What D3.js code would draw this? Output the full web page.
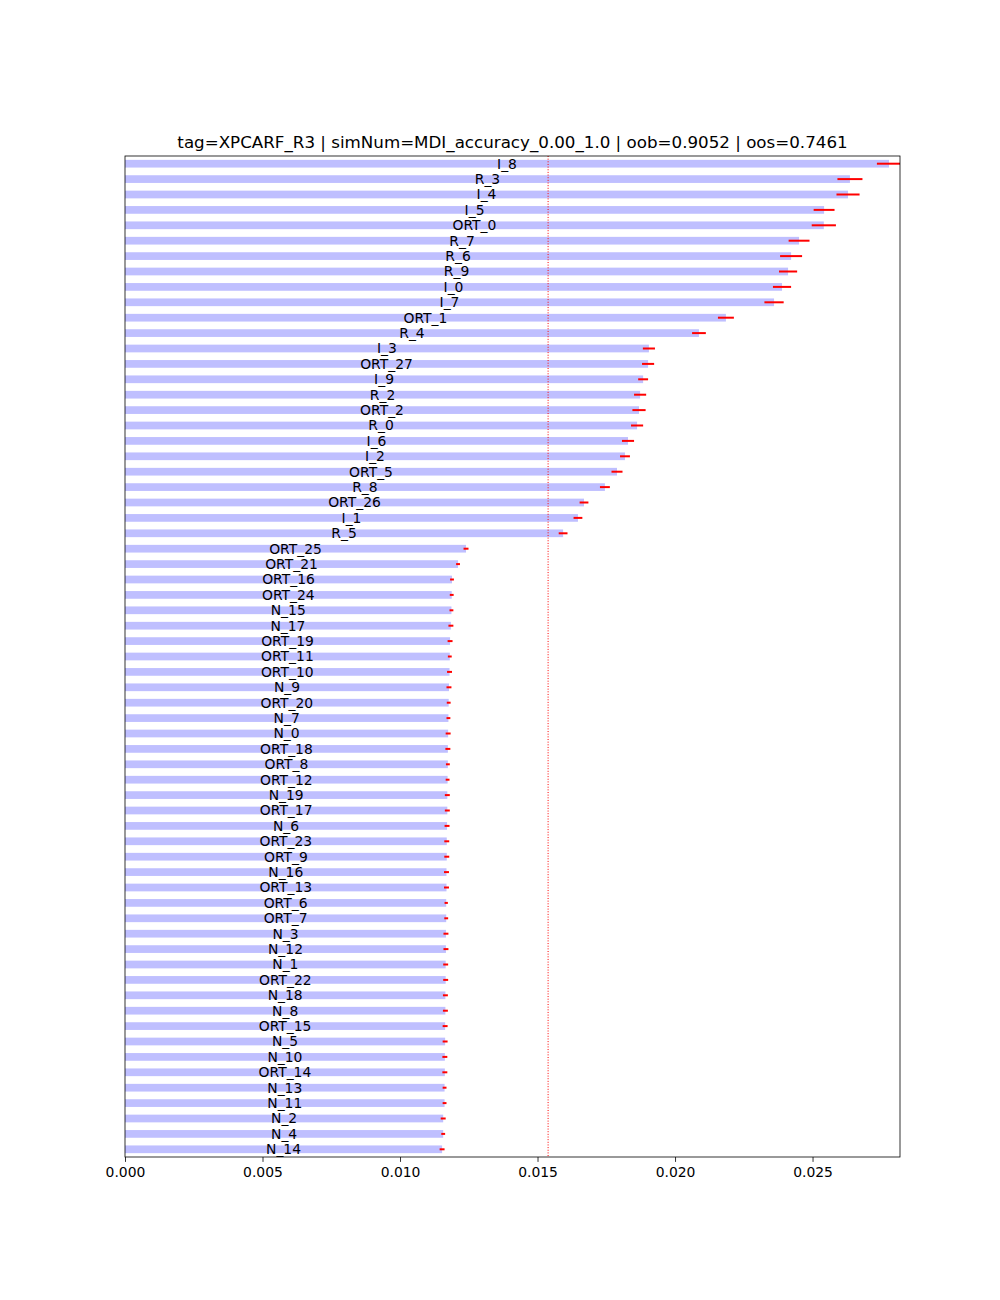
<!DOCTYPE html>
<html>
<head>
<meta charset="utf-8">
<script src="https://cdn.jsdelivr.net/npm/d3@7"></script>
<style>
  body { margin: 0; background: #fff; }
  text { font-family: "DejaVu Sans", sans-serif; fill: #000; }
</style>
</head>
<body>
<div id="chart"></div>
<script>
// feature names, top to bottom
const features = [
  "I_8", "R_3", "I_4", "I_5", "ORT_0", "R_7", "R_6", "R_9", "I_0", "I_7",
  "ORT_1", "R_4", "I_3", "ORT_27", "I_9", "R_2", "ORT_2", "R_0", "I_6", "I_2",
  "ORT_5", "R_8", "ORT_26", "I_1", "R_5", "ORT_25", "ORT_21", "ORT_16", "ORT_24", "N_15",
  "N_17", "ORT_19", "ORT_11", "ORT_10", "N_9", "ORT_20", "N_7", "N_0", "ORT_18", "ORT_8",
  "ORT_12", "N_19", "ORT_17", "N_6", "ORT_23", "ORT_9", "N_16", "ORT_13", "ORT_6", "ORT_7",
  "N_3", "N_12", "N_1", "ORT_22", "N_18", "N_8", "ORT_15", "N_5", "N_10", "ORT_14",
  "N_13", "N_11", "N_2", "N_4", "N_14"
];

// mean importance
const means = [
  0.02778, 0.02636, 0.02629, 0.02542, 0.02541, 0.02451, 0.02422, 0.02411, 0.02389, 0.02360,
  0.02185, 0.02087, 0.01905, 0.01902, 0.01884, 0.01873, 0.01869, 0.01862, 0.01829, 0.01818,
  0.01789, 0.01745, 0.01669, 0.01647, 0.01593, 0.01240, 0.01211, 0.01189, 0.01188, 0.01187,
  0.01185, 0.01182, 0.01181, 0.01180, 0.01178, 0.01177, 0.01176, 0.01175, 0.01174, 0.01174,
  0.01173, 0.01172, 0.01172, 0.01171, 0.01170, 0.01170, 0.01169, 0.01169, 0.01168, 0.01168,
  0.01167, 0.01167, 0.01166, 0.01166, 0.01165, 0.01165, 0.01164, 0.01164, 0.01163, 0.01163,
  0.01162, 0.01162, 0.01157, 0.01157, 0.01153
];

// std (error bar half-width)
const stds = [
  0.00044, 0.000455, 0.00042, 0.00038, 0.00044, 0.00038, 0.00040, 0.00033, 0.00033, 0.00035,
  0.00029, 0.00025, 0.00022, 0.00022, 0.00018, 0.00022, 0.00024, 0.00022, 0.00022, 0.00018,
  0.00020, 0.00018, 0.00016, 0.00016, 0.00016, 0.00009, 0.00007, 0.00007, 0.00007, 0.00007,
  0.00009, 0.00009, 0.00007, 0.00009, 0.00009, 0.00007, 0.00007, 0.00009, 0.00009, 0.00007,
  0.00007, 0.00009, 0.00009, 0.00009, 0.00009, 0.00009, 0.00009, 0.00009, 0.00006, 0.00007,
  0.00009, 0.00009, 0.00009, 0.00009, 0.00009, 0.00009, 0.00009, 0.00009, 0.00009, 0.00009,
  0.00007, 0.00007, 0.00009, 0.00007, 0.00009
];

const xTicks = [0, 0.005, 0.010, 0.015, 0.020, 0.025];
const xMax = 0.02818;
const threshold = 1 / features.length;
const titleText = "tag=XPCARF_R3 | simNum=MDI_accuracy_0.00_1.0 | oob=0.9052 | oos=0.7461";

const data = features.map((f, i) => ({ name: f, mean: means[i], std: stds[i], idx: i }));

const svgWidth = 1000, svgHeight = 1300;
const margin = { top: 156, right: 100, bottom: 143, left: 125 };
const width = svgWidth - margin.left - margin.right;
const height = svgHeight - margin.top - margin.bottom;

const svg = d3.select("#chart").append("svg")
  .attr("width", svgWidth)
  .attr("height", svgHeight);

const g = svg.append("g")
  .attr("transform", `translate(${margin.left},${margin.top})`);

const x = d3.scaleLinear().domain([0, xMax]).range([0, width]);
// index 0 at top, ylim [-0.5, n-0.5]
const y = d3.scaleLinear().domain([-0.5, features.length - 0.5]).range([0, height]);
const barH = y(0.25) - y(-0.25);

const clip = svg.append("clipPath").attr("id", "plotclip")
  .append("rect").attr("width", width).attr("height", height);

const plot = g.append("g").attr("clip-path", "url(#plotclip)");

plot.selectAll("rect.bar")
  .data(data)
  .enter()
  .append("rect")
  .attr("class", "bar")
  .attr("x", 0)
  .attr("y", d => y(d.idx) - barH / 2)
  .attr("width", d => x(d.mean))
  .attr("height", barH)
  .attr("fill", "#bfbfff");

plot.selectAll("line.err")
  .data(data)
  .enter()
  .append("line")
  .attr("class", "err")
  .attr("x1", d => x(d.mean - d.std))
  .attr("x2", d => x(d.mean + d.std))
  .attr("y1", d => y(d.idx))
  .attr("y2", d => y(d.idx))
  .attr("stroke", "#ff0000")
  .attr("stroke-width", 2);

plot.append("line")
  .attr("x1", x(threshold))
  .attr("x2", x(threshold))
  .attr("y1", 0)
  .attr("y2", height)
  .attr("stroke", "#ff0000")
  .attr("stroke-width", 1)
  .attr("stroke-dasharray", "1,1.65");

g.selectAll("text.lbl")
  .data(data)
  .enter()
  .append("text")
  .attr("class", "lbl")
  .attr("x", d => x(d.mean / 2))
  .attr("y", d => y(d.idx))
  .attr("dy", "0.35em")
  .attr("text-anchor", "middle")
  .style("font-size", "13.9px")
  .text(d => d.name);

// frame
g.append("rect")
  .attr("width", width)
  .attr("height", height)
  .attr("fill", "none")
  .attr("stroke", "#000")
  .attr("stroke-width", 0.8);

const xAxis = g.append("g")
  .attr("transform", `translate(0,${height})`)
  .call(d3.axisBottom(x).tickValues(xTicks).tickFormat(d3.format(".3f"))
    .tickSize(4.9).tickPadding(4.9));
xAxis.select(".domain").remove();
xAxis.selectAll("line").attr("stroke", "#000").attr("stroke-width", 0.8);
xAxis.selectAll("text").style("font-size", "13.9px").style("font-family", "DejaVu Sans").attr("fill", "#000");

svg.append("text")
  .attr("x", margin.left + width / 2)
  .attr("y", margin.top - 8)
  .attr("text-anchor", "middle")
  .style("font-size", "16.7px")
  .text(titleText);
</script>
</body>
</html>
